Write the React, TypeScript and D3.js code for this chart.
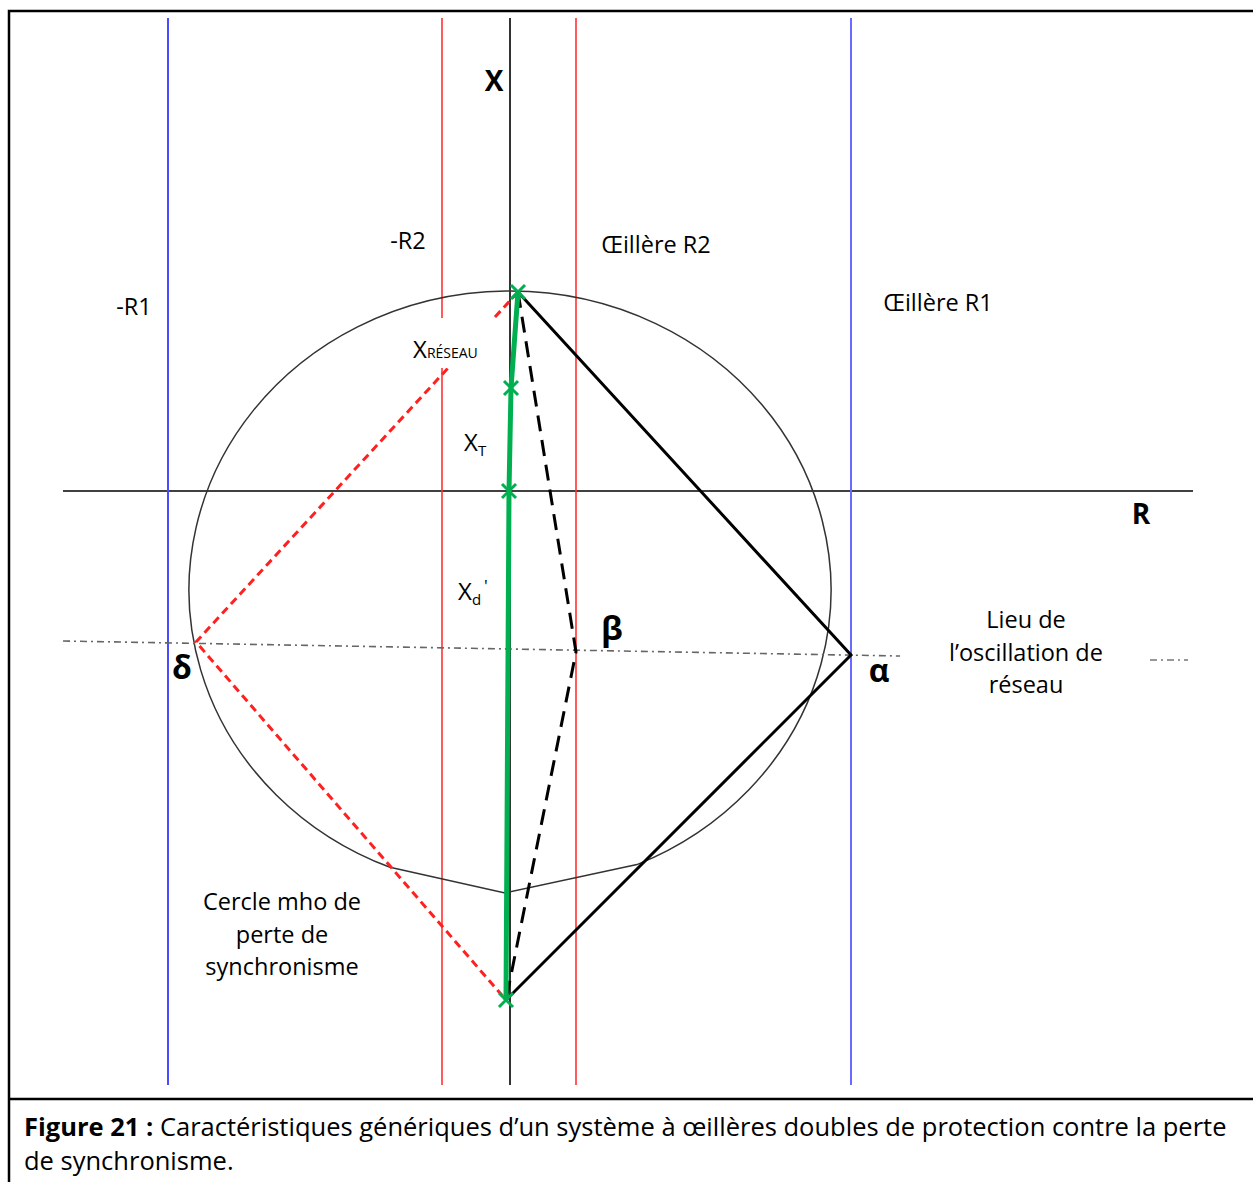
import React from "react";
import * as d3 from "d3";

// ---- data (impedance-plane units) ----
const blinderR = [
  { name: "-R1", r: -34.2, color: "#4b4bff" },
  { name: "R1", r: 34.1, color: "#6a6aff" },
];
const blinderR2 = [
  { name: "-R2", r: -6.8 },
  { name: "R2", r: 6.6 },
];
const axisRExtent = [-44.7, 68.3];
const axisXExtent = [-59.4, 47.3];
const topPt = { r: 0.8, x: 19.9 };
const xtPt = { r: 0.1, x: 10.3 };
const originPt = { r: -0.1, x: 0 };
const bottomPt = { r: -0.4, x: -50.9 };
const alphaPt = { r: 34.1, x: -16.4 };
const betaPt = { r: 6.6, x: -16.1 };
const deltaPt = { r: -31.4, x: -15.1 };
const locusPts = [
  { r: -44.7, x: -15.0 },
  { r: 39.0, x: -16.5 },
];
const legendLocus = [
  { r: 64.0, x: -16.9 },
  { r: 67.8, x: -16.9 },
];
const mho = { cr: 0, cx: -9.9, rr: 32.1, rx: 29.9, cutL: -12.0, cutR: 12.7, cusp: { r: -0.5, x: -40.2 } };
const greenPts = [topPt, xtPt, originPt, bottomPt];

const W = 1253;
const H = 1182;

export default function App() {
  const sx = d3.scaleLinear().domain([0, 1]).range([510, 520]);
  const sy = d3.scaleLinear().domain([0, 1]).range([491, 481]);
  const line = d3
    .line<{ r: number; x: number }>()
    .x((d) => sx(d.r))
    .y((d) => sy(d.x));

  // mho shape
  const ey = (r: number) =>
    mho.cx - mho.rx * Math.sqrt(1 - ((r - mho.cr) / mho.rr) ** 2);
  const L = { r: mho.cutL, x: ey(mho.cutL) };
  const R = { r: mho.cutR, x: ey(mho.cutR) };
  const rxPx = sx(mho.rr) - sx(0);
  const ryPx = sy(0) - sy(mho.rx);
  const mhoPath = `M${sx(L.r)},${sy(L.x)} A${rxPx},${ryPx} 0 1 1 ${sx(R.r)},${sy(R.x)} L${sx(
    mho.cusp.r
  )},${sy(mho.cusp.x)} Z`;

  const yTop = sy(axisXExtent[1]);
  const yBot = sy(axisXExtent[0]);
  const font = "'Open Sans', 'Noto Sans', sans-serif";
  const fs = 23.5;

  const cross = (p: { r: number; x: number }, i: number) => {
    const cx = sx(p.r);
    const cy = sy(p.x);
    const s = 7;
    return (
      <g key={i} stroke="#00b050" strokeWidth={3}>
        <line x1={cx - s} y1={cy - s} x2={cx + s} y2={cy + s} />
        <line x1={cx - s} y1={cy + s} x2={cx + s} y2={cy - s} />
      </g>
    );
  };

  return (
    <svg
      width={W}
      height={H}
      style={{ position: "absolute", left: 0, top: 0, background: "#fff" }}
      fontFamily={font}
    >
      <rect x={0} y={0} width={W} height={H} fill="#fff" />
      {/* frame */}
      <path d={`M9,${H + 5} L9,11 L${W + 5},11`} fill="none" stroke="#000" strokeWidth={2.5} />
      <line x1={9} x2={W + 5} y1={1099} y2={1099} stroke="#000" strokeWidth={2.5} />

      {/* axes */}
      <line x1={sx(0)} x2={sx(0)} y1={yTop} y2={yBot} stroke="#000" strokeWidth={1.6} />
      <line x1={sx(axisRExtent[0])} x2={sx(axisRExtent[1])} y1={sy(0)} y2={sy(0)} stroke="#000" strokeWidth={1.6} />

      {/* blinders */}
      {blinderR.map((b) => (
        <line key={b.name} x1={sx(b.r)} x2={sx(b.r)} y1={yTop} y2={yBot} stroke={b.color} strokeWidth={2} />
      ))}
      {blinderR2.map((b) => (
        <line key={b.name} x1={sx(b.r)} x2={sx(b.r)} y1={yTop} y2={yBot} stroke="#ff3333" strokeWidth={1.6} />
      ))}

      {/* mho circle */}
      <path d={mhoPath} fill="none" stroke="#333" strokeWidth={1.5} />

      {/* locus */}
      <path d={line(locusPts) || ""} fill="none" stroke="#666" strokeWidth={1.6} strokeDasharray="7,4,2,4" />
      <path d={line(legendLocus) || ""} fill="none" stroke="#777" strokeWidth={1.6} strokeDasharray="7,4,2,4" />

      {/* red dashed */}
      <path d={line([topPt, deltaPt, bottomPt]) || ""} fill="none" stroke="#ff2020" strokeWidth={3} strokeDasharray="8,5" />

      {/* black dashed */}
      <path d={line([topPt, betaPt, bottomPt]) || ""} fill="none" stroke="#000" strokeWidth={3} strokeDasharray="16,9" />

      {/* black solid */}
      <path d={line([topPt, alphaPt, bottomPt]) || ""} fill="none" stroke="#000" strokeWidth={3} strokeLinejoin="miter" />

      {/* green */}
      <path d={line(greenPts) || ""} fill="none" stroke="#00b050" strokeWidth={5} />
      {greenPts.map(cross)}

      {/* label mask */}
      <rect x={405} y={318} width={95} height={50} fill="#fff" />

      {/* labels */}
      <text x={494} y={91} fontSize={28} fontWeight="bold" textAnchor="middle">X</text>
      <text x={1141} y={524} fontSize={28} fontWeight="bold" textAnchor="middle">R</text>
      <text x={408} y={249} fontSize={fs} textAnchor="middle">-R2</text>
      <text x={134} y={315} fontSize={fs} textAnchor="middle">-R1</text>
      <text x={656} y={253} fontSize={fs} textAnchor="middle">Œillère R2</text>
      <text x={938} y={311} fontSize={fs} textAnchor="middle">Œillère R1</text>

      <text x={413} y={358} fontSize={24}>
        X<tspan fontSize={14}>RÉSEAU</tspan>
      </text>
      <text x={464} y={451} fontSize={24}>
        X<tspan fontSize={15} dy={5}>T</tspan>
      </text>
      <text x={458} y={600} fontSize={24}>
        X<tspan fontSize={15} dy={5}>d</tspan>
        <tspan fontSize={17} dy={-13} dx={3}>'</tspan>
      </text>

      <text x={612} y={640} fontSize={33} fontWeight="bold" textAnchor="middle">β</text>
      <text x={182} y={679} fontSize={32} fontWeight="bold" textAnchor="middle">δ</text>
      <text x={879} y={682} fontSize={32} fontWeight="bold" textAnchor="middle">α</text>

      <g fontSize={fs} textAnchor="middle">
        <text x={1026} y={628}>Lieu de</text>
        <text x={1026} y={661}>l’oscillation de</text>
        <text x={1026} y={693}>réseau</text>
        <text x={282} y={910}>Cercle mho de</text>
        <text x={282} y={943}>perte de</text>
        <text x={282} y={975}>synchronisme</text>
      </g>

      <text x={24} y={1136} fontSize={25.5}>
        <tspan fontWeight="bold">Figure 21 :</tspan> Caractéristiques génériques d’un système à œillères doubles de protection contre la perte
      </text>
      <text x={24} y={1170} fontSize={25.5}>de synchronisme.</text>
    </svg>
  );
}
